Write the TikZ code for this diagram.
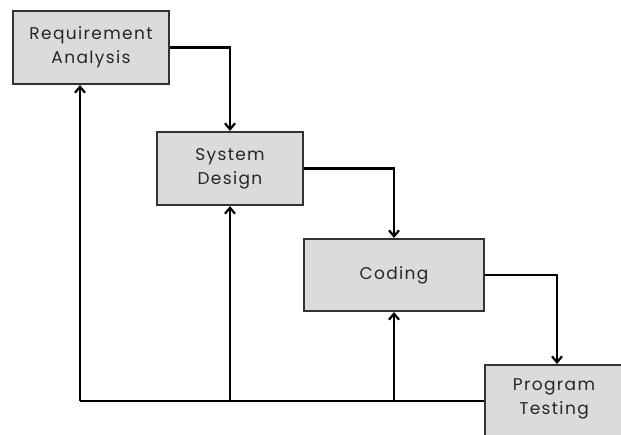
\documentclass[tikz,border=0pt]{standalone}
\usepackage{fontspec}
\setmainfont[LetterSpace=8]{Poppins}
\usetikzlibrary{arrows.meta}
\begin{document}
\begin{tikzpicture}[x=1pt,y=-1pt,
  box/.style={draw=black!80, line width=2pt, fill=black!14, align=center, text=black!85, font=\fontsize{17}{24}\selectfont, inner sep=0pt},
  lbl/.style={align=center, text=black!85, font=\fontsize{17}{24}\selectfont, inner sep=0pt},
  conn/.style={line width=2.2pt, black},
  arr/.style={conn, -{Straight Barb[length=6pt,width=10pt,line width=2.2pt]}}]
\useasboundingbox (0,0) rectangle (621,434);
\clip (0,0) rectangle (621,434);
\fill[white] (0,0) rectangle (621,434);
\node[box, minimum width=156pt, minimum height=73pt, anchor=north west] (ra) at (12,10) {Requirement\\Analysis};
\node[box, minimum width=146pt, minimum height=73pt, anchor=north west] (sd) at (156,131) {System\\Design};
\node[box, minimum width=180pt, minimum height=72pt, anchor=north west] (cd) at (303,238) {Coding};
\node[box, minimum width=156pt, minimum height=86pt, anchor=north west] (pt) at (484,364) {};
\node[lbl] (ptl) at (554,399) {Program\\Testing};
\coordinate (pin) at (557,364);
\coordinate (fb) at (484,401);
\coordinate (j1) at (80,401);
\draw[arr] (ra.east) -| (sd.north);
\draw[arr] (sd.east) -| (cd.north);
\draw[arr] (cd.east) -| (pin);
\draw[conn] (fb) -- (j1);
\draw[arr] (j1) -- (j1 |- ra.south);
\draw[arr] (sd.south |- fb) -- (sd.south);
\draw[arr] (cd.south |- fb) -- (cd.south);
\end{tikzpicture}
\end{document}
